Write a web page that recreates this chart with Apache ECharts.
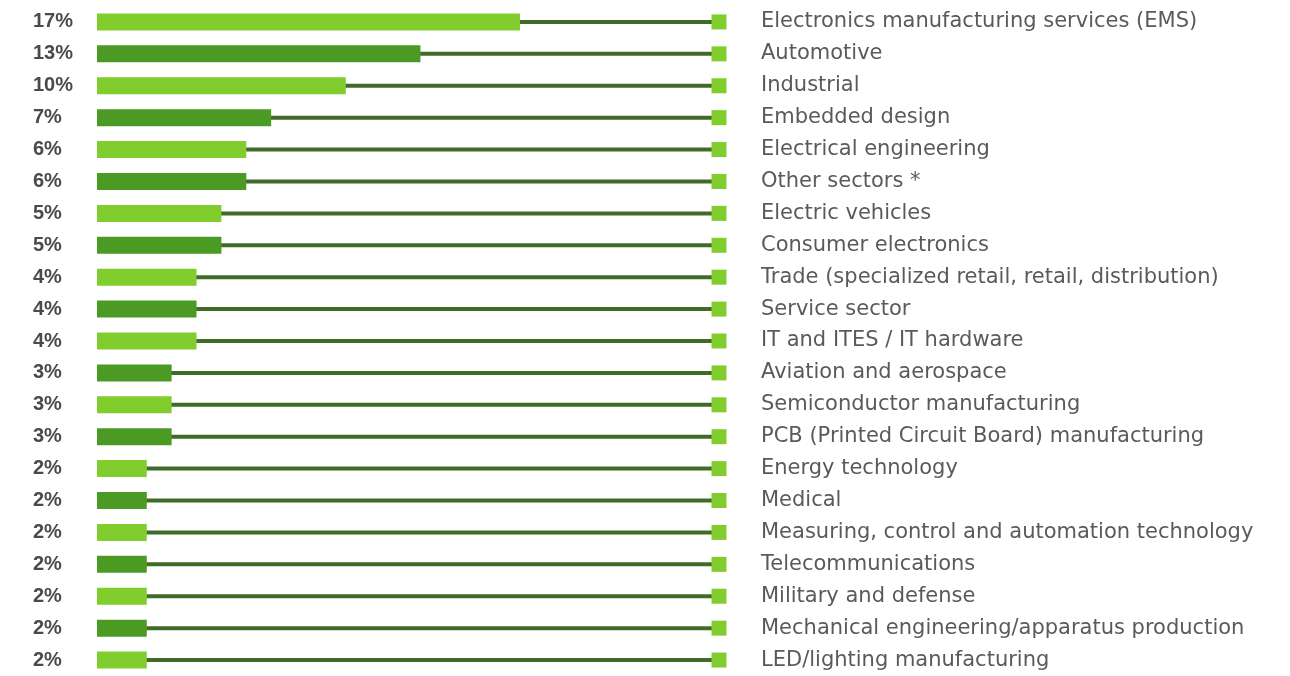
<!DOCTYPE html>
<html style="height: 100%">
<head>
    <meta charset="utf-8">
    <title>Sectors</title>
    <script src="https://cdn.jsdelivr.net/npm/echarts@6/dist/echarts.min.js"></script>
</head>
<body style="height: 100%; margin: 0; background: #fff">
    <div id="main" style="width: 1290px; height: 676px"></div>
    <script type="text/javascript">
        // data
        var sectors = [
            'Electronics manufacturing services (EMS)', 'Automotive', 'Industrial', 'Embedded design',
            'Electrical engineering', 'Other sectors *', 'Electric vehicles', 'Consumer electronics',
            'Trade (specialized retail, retail, distribution)', 'Service sector', 'IT and ITES / IT hardware',
            'Aviation and aerospace', 'Semiconductor manufacturing', 'PCB (Printed Circuit Board) manufacturing',
            'Energy technology', 'Medical', 'Measuring, control and automation technology',
            'Telecommunications', 'Military and defense', 'Mechanical engineering/apparatus production',
            'LED/lighting manufacturing'
        ];
        var shares = [17, 13, 10, 7, 6, 6, 5, 5, 4, 4, 4, 3, 3, 3, 2, 2, 2, 2, 2, 2, 2];
        var percentLabels = shares.map(function (v) { return v + '%'; });

        var xMax = 25;
        var lightGreen = '#80cd2d';
        var darkGreen = '#4b9a24';
        var lineGreen = '#3e6b27';

        var myChart = echarts.init(document.getElementById('main'));

        var option = {
            animation: false,
            grid: {
                left: 97,
                width: 622,
                top: 6,
                height: 673
            },
            xAxis: {
                type: 'value',
                min: 0,
                max: xMax,
                show: false
            },
            yAxis: [
                {
                    type: 'category',
                    data: percentLabels,
                    inverse: true,
                    position: 'left',
                    axisLine: { show: false },
                    axisTick: { show: false },
                    axisLabel: {
                        align: 'left',
                        margin: 64,
                        fontFamily: 'Liberation Sans',
                        fontWeight: 'bold',
                        fontSize: 20,
                        color: '#4a4a4a'
                    }
                },
                {
                    type: 'category',
                    data: sectors,
                    inverse: true,
                    position: 'right',
                    axisLine: { show: false },
                    axisTick: { show: false },
                    axisLabel: {
                        align: 'left',
                        margin: 42,
                        fontFamily: 'DejaVu Sans',
                        fontSize: 21,
                        color: '#5a5a5a'
                    }
                }
            ],
            series: [
                {
                    // thin track line from the axis start to the end marker
                    type: 'custom',
                    z: 1,
                    renderItem: function (params, api) {
                        var start = api.coord([0, api.value(1)]);
                        var end = api.coord([xMax, api.value(1)]);
                        return {
                            type: 'line',
                            shape: { x1: start[0], y1: start[1], x2: end[0], y2: end[1] },
                            style: { stroke: lineGreen, lineWidth: 4 }
                        };
                    },
                    data: shares.map(function (v, i) { return [v, i]; })
                },
                {
                    type: 'bar',
                    z: 2,
                    barWidth: 17,
                    data: shares,
                    itemStyle: {
                        color: function (p) { return p.dataIndex % 2 === 0 ? lightGreen : darkGreen; }
                    }
                },
                {
                    type: 'scatter',
                    z: 3,
                    symbol: 'rect',
                    symbolSize: 15,
                    itemStyle: { color: lightGreen, opacity: 1 },
                    data: shares.map(function (v, i) { return [xMax, i]; })
                }
            ]
        };

        myChart.setOption(option);
    </script>
</body>
</html>
